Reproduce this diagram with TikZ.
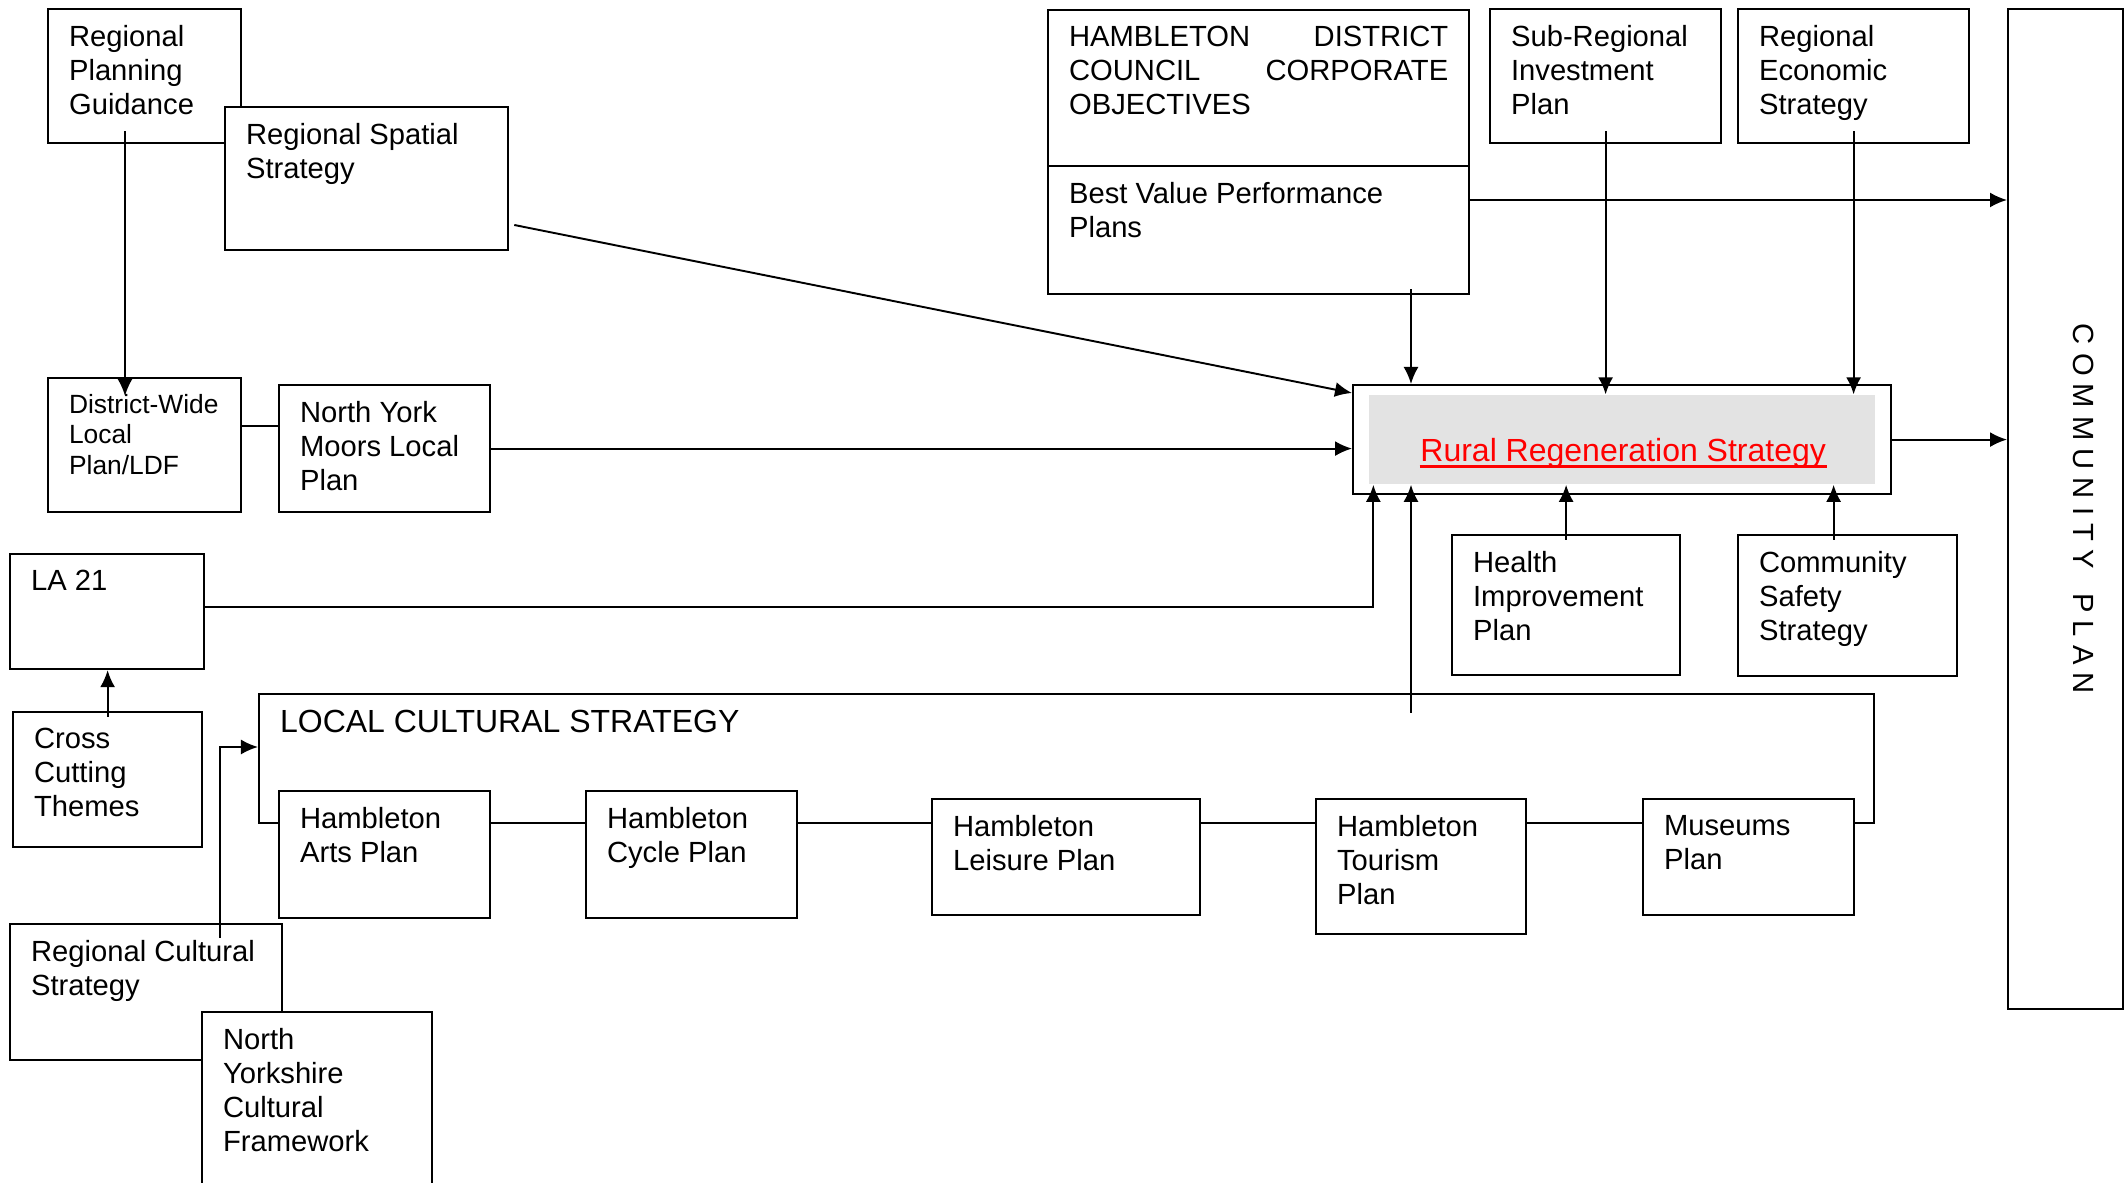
\documentclass[tikz,border=0pt]{standalone}
\usepackage{fontspec}
\setmainfont{Liberation Sans}
\usepackage{tikz}
\usetikzlibrary{arrows.meta}
\definecolor{rrsgray}{HTML}{E3E3E3}
\newcommand{\diagfont}{\fontsize{8.3}{9.7}\selectfont}

\begin{document}
\begin{tikzpicture}[
x=0.01cm, y=-0.01cm,
box/.style 2 args={draw, fill=white, line width=0.6pt, anchor=north west, inner xsep=0.21cm, inner ysep=0.16cm, font=\diagfont,
  execute at begin node={\begin{minipage}[t][#2][t]{#1}\selectfont\raggedright},
  execute at end node={\end{minipage}}},
smalltext/.style={font=\fontsize{7.5}{8.7}\selectfont},
bigtext/.style={font=\fontsize{9.1}{10.5}\selectfont},
arrow/.style={-{Latex[length=1.7mm, width=1.5mm]}, line width=0.55pt},
link/.style={line width=0.55pt}
]
\useasboundingbox (0,0) rectangle (2126,1183);

\node[box={1.51cm}{1.02cm}] (rpg) at (47,8) {Regional\\Planning\\Guidance};
\node[box={2.41cm}{1.11cm}] (rss) at (224,106) {Regional Spatial\\Strategy};
\node[box={1.51cm}{1.02cm}, smalltext] (dw) at (47,377) {District-Wide\\Local\\Plan/LDF};
\node[box={1.69cm}{0.95cm}] (nym) at (278,384) {North York\\Moors Local\\Plan};
\node[box={1.52cm}{0.83cm}] (la21) at (9,553) {LA 21};
\node[box={1.47cm}{1.03cm}] (cct) at (12,711) {Cross\\Cutting\\Themes};
\node[box={2.30cm}{1.04cm}] (rcs) at (9,923) {Regional Cultural\\Strategy};
\node[box={1.88cm}{1.53cm}] (nycf) at (201,1011) {North\\Yorkshire\\Cultural\\Framework};

\node[box={15.72cm}{0.97cm}, bigtext] (lcs) at (258,693) {LOCAL CULTURAL STRATEGY};
\node[box={1.69cm}{0.95cm}] (arts) at (278,790) {Hambleton\\Arts Plan};
\node[box={1.69cm}{0.95cm}] (cycle) at (585,790) {Hambleton\\Cycle Plan};
\node[box={2.26cm}{0.84cm}] (leisure) at (931,798) {Hambleton\\Leisure Plan};
\node[box={1.68cm}{1.03cm}] (tourism) at (1315,798) {Hambleton\\Tourism\\Plan};
\node[box={1.69cm}{0.84cm}] (museums) at (1642,798) {Museums\\Plan};

\node[box={3.79cm}{1.24cm}] (hdc) at (1047,9) {HAMBLETON\hspace{0pt plus 1filll}DISTRICT\\COUNCIL\hspace{0pt plus 1filll}CORPORATE\\OBJECTIVES};
\node[box={3.79cm}{0.96cm}] (bv) at (1047,165) {Best Value Performance\\Plans};
\node[box={1.89cm}{1.02cm}] (srip) at (1489,8) {Sub-Regional\\Investment\\Plan};
\node[box={1.89cm}{1.02cm}] (res) at (1737,8) {Regional\\Economic\\Strategy};
\node[box={0.73cm}{9.67cm}] (cp) at (2007,8) {\leavevmode};
\node[rotate=-90, inner sep=0pt, font=\diagfont] (cplabel) at ([shift={(18,0)}]cp.center) {C O M M U N I T Y\ \ \ P L A N};

\node[box={4.96cm}{0.77cm}] (rrs) at (1352,384) {\leavevmode};
\node[fill=rrsgray, minimum width=5.06cm, minimum height=0.89cm, inner sep=0pt] (rrsin) at (rrs.center) {};
\node[inner sep=0pt, text=red, bigtext] (rrstext) at ([shift={(1,14)}]rrsin.center) {Rural Regeneration Strategy};
\draw[red, line width=0.85pt] ([shift={(0,5)}]rrstext.base west) -- ([shift={(0,5)}]rrstext.base east);
\node[box={1.86cm}{1.08cm}] (health) at (1451,534) {Health\\Improvement\\Plan};
\node[box={1.77cm}{1.09cm}] (css) at (1737,534) {Community\\Safety\\Strategy};

\draw[arrow] ([shift={(78,-13)}]rpg.south west) -- ([shift={(78,19)}]dw.north west);
\draw[link] ([shift={(0,49)}]dw.north east) -- ([shift={(0,42)}]nym.north west);
\draw[arrow] (nym.east) -- (nym.east -| rrs.west);
\draw[arrow] ([shift={(5,119)}]rss.north east) -- ([shift={(0,9)}]rrs.north west);
\draw[arrow] ([shift={(0,35)}]bv.north east) coordinate (bvout) -- (bvout -| cp.west);
\draw[arrow] ([shift={(364,-6)}]bv.south west) coordinate (bvdown) -- (bvdown |- rrs.north);
\draw[arrow] ([shift={(0,-13)}]srip.south) -- (srip.south |- rrsin.north);
\draw[arrow] ([shift={(0,-13)}]res.south) -- (res.south |- rrsin.north);
\draw[arrow] (rrs.east) -- (rrs.east -| cp.west);
\draw[arrow] ([shift={(0,6)}]health.north) -- (health.north |- rrsin.south);
\draw[arrow] ([shift={(-14,6)}]css.north) coordinate (cssup) -- (cssup |- rrsin.south);
\draw[arrow] ([shift={(0,-5)}]la21.east) -| ([shift={(5,0)}]rrsin.south west);
\draw[arrow] ([shift={(1153,20)}]lcs.north west) coordinate (lcsup) -- (lcsup |- rrsin.south);
\draw[arrow] ([shift={(0,6)}]cct.north) -- (cct.north |- la21.south);
\draw[arrow] ([shift={(211,15)}]rcs.north west) |- ([shift={(0,54)}]lcs.north west);
\end{tikzpicture}
\end{document}
